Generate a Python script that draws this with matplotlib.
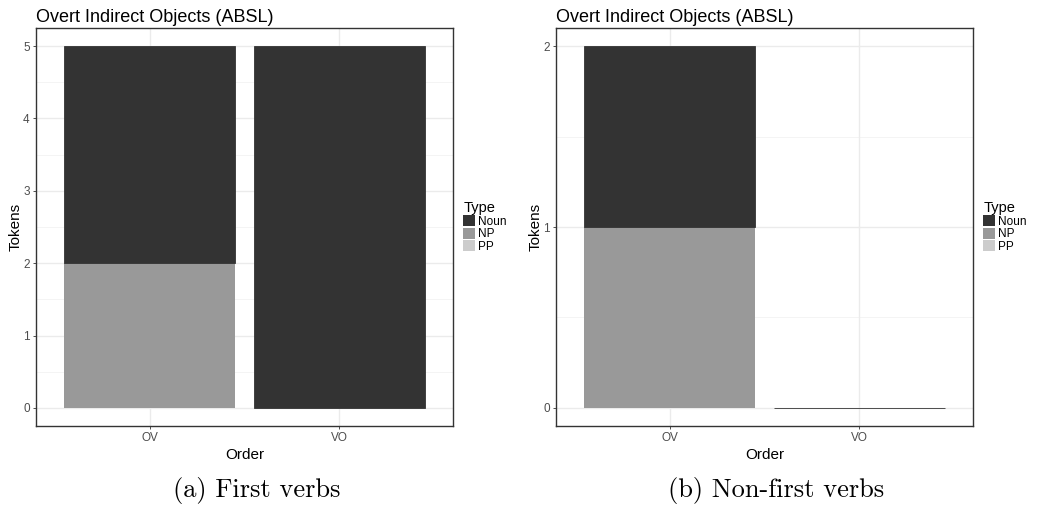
import matplotlib
matplotlib.use("Agg")
import matplotlib.pyplot as plt
from matplotlib.patches import Patch
import numpy as np

orders = ["OV", "VO"]
types = ["Noun", "NP", "PP"]
first_noun = [3, 5]
first_np = [2, 0]
first_pp = [0, 0]
nonfirst_noun = [1, 0]
nonfirst_np = [1, 0]
nonfirst_pp = [0, 0]
first_ticks = [0, 1, 2, 3, 4, 5]
nonfirst_ticks = [0, 1, 2]
captions = ["(a) First verbs", "(b) Non-first verbs"]
title = "Overt Indirect Objects (ABSL)"

colors = {"Noun": "#333333", "NP": "#999999", "PP": "#cccccc"}
sans = ["Liberation Sans", "DejaVu Sans"]
plt.rcParams['font.family'] = sans

fig = plt.figure(figsize=(10.38, 5.07), dpi=100)
W, H = 1038, 507

def make_ax(x0, x1, y0, y1):
    return fig.add_axes([x0 / W, 1 - y1 / H, (x1 - x0) / W, (y1 - y0) / H])

panels = [
    (make_ax(36, 453, 28, 426), first_noun, first_np, first_pp, first_ticks),
    (make_ax(556, 973, 28, 426), nonfirst_noun, nonfirst_np, nonfirst_pp, nonfirst_ticks),
]

for ax, noun, np_, pp, ticks in panels:
    x = np.arange(1, len(orders) + 1)
    ymax = max(np.array(noun) + np.array(np_) + np.array(pp))
    ax.set_xlim(0.4, len(orders) + 0.6)
    ax.set_ylim(-0.05 * ymax, ymax * 1.05)
    ax.set_axisbelow(True)
    for t in ticks:
        ax.axhline(t, color="#ebebeb", lw=1.0, zorder=0)
    for t in np.arange(ticks[0] + 0.5, ticks[-1], 1.0):
        ax.axhline(t, color="#f2f2f2", lw=0.6, zorder=0)
    for xi in x:
        ax.axvline(xi, color="#ebebeb", lw=1.0, zorder=0)
    bottom = np.zeros(len(orders))
    for name, vals in [("PP", pp), ("NP", np_), ("Noun", noun)]:
        v = np.array(vals, dtype=float)
        ax.bar(x, v, width=0.9, bottom=bottom, color=colors[name],
               edgecolor=colors[name] if name == "Noun" else "none",
               linewidth=0.6 if name == "Noun" else 0, zorder=2)
        bottom = bottom + v
    ax.set_xticks(x)
    ax.set_xticklabels(orders)
    ax.set_yticks(ticks)
    ax.set_yticklabels([str(t) for t in ticks])
    ax.tick_params(axis="both", colors="#333333", labelcolor="#4d4d4d",
                   labelsize=8.5, length=2.5, width=0.6, pad=2)
    for s in ax.spines.values():
        s.set_color("#333333")
        s.set_linewidth(1.0)
    ax.set_xlabel("Order", fontsize=11, labelpad=3)
    ax.set_ylabel("Tokens", fontsize=11, labelpad=0)
    ax.set_title(title, loc="left", fontsize=13, pad=4)
    handles = [Patch(facecolor=colors[t], edgecolor="none") for t in types]
    leg = ax.legend(handles, types, title="Type", loc="center left",
                    bbox_to_anchor=(1.025, 0.5), frameon=False, fontsize=8.5,
                    title_fontsize=10.5, handlelength=1.0, handleheight=1.05,
                    labelspacing=0.0, handletextpad=0.2, borderpad=0,
                    borderaxespad=0)
    leg._legend_box.align = "left"

fig.text(257 / W, 1 - 490 / H, captions[0], ha="center", va="center",
         fontsize=19, family=["cmr10", "DejaVu Serif"])
fig.text(776 / W, 1 - 490 / H, captions[1], ha="center", va="center",
         fontsize=19, family=["cmr10", "DejaVu Serif"])

fig.savefig("out.png", dpi=100)
